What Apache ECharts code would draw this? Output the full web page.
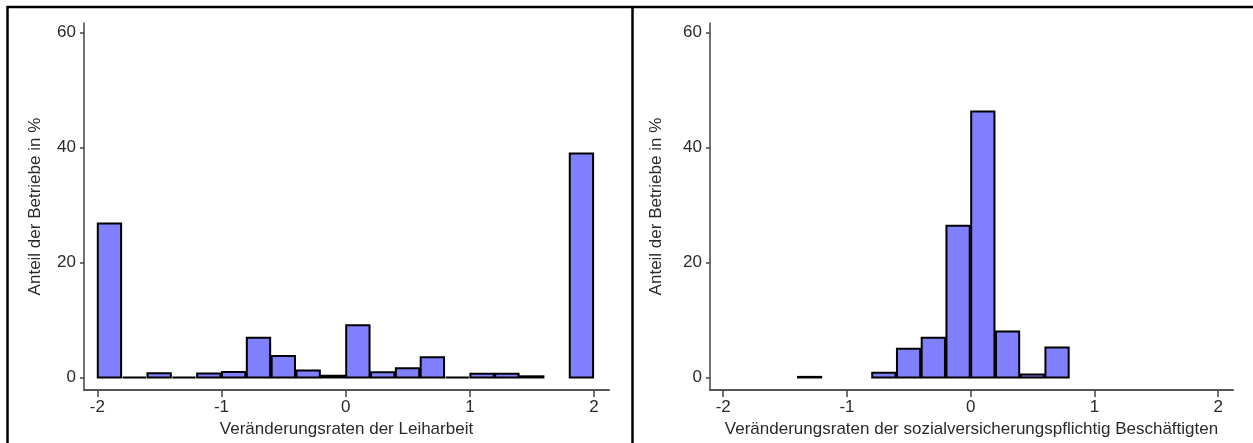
<!DOCTYPE html>
<html>
<head>
<meta charset="utf-8">
<script src="https://cdn.jsdelivr.net/npm/echarts@6/dist/echarts.min.js"></script>
<style>
  html, body { margin: 0; padding: 0; background: #fff; }
  #chart { width: 1253px; height: 443px; }
</style>
</head>
<body>
<div id="chart"></div>
<script>
// Histogramm: Klassen der Breite 0.2, Anteil der Betriebe in %
var binStarts = [-2.0, -1.8, -1.6, -1.4, -1.2, -1.0, -0.8, -0.6, -0.4, -0.2,
                  0.0,  0.2,  0.4,  0.6,  0.8,  1.0,  1.2,  1.4,  1.6,  1.8];
var binWidth = 0.2;
// Leiharbeit (null = kein Balken)
var leiharbeit = [26.8, 0, 0.75, 0, 0.7, 0.95, 6.9, 3.75, 1.2, 0.3,
                  9.1, 0.9, 1.6, 3.5, 0, 0.65, 0.65, 0.2, null, 39.0];
// sozialversicherungspflichtig Beschäftigte
var svBeschaeftigte = [null, null, null, 0.1, null, null, 0.8, 5.0, 6.9, 26.4,
                       46.3, 8.0, 0.5, 5.2, null, null, null, null, null, null];
var xTicks = [-2, -1, 0, 1, 2];
var yTicks = [0, 20, 40, 60];

var xNames = ['Veränderungsraten der Leiharbeit',
              'Veränderungsraten der sozialversicherungspflichtig Beschäftigten'];
var yName = 'Anteil der Betriebe in %';

function toBins(values) {
  var out = [];
  values.forEach(function (v, i) {
    if (v === null) return;
    out.push([binStarts[i], binStarts[i] + binWidth, v]);
  });
  return out;
}

function renderItem(params, api) {
  var p0 = api.coord([api.value(0), api.value(2)]);
  var p1 = api.coord([api.value(1), 0]);
  return {
    type: 'rect',
    shape: {
      x: p0[0] + 0.5,
      y: p0[1],
      width: p1[0] - p0[0] - 1.5,
      height: p1[1] - p0[1]
    },
    style: { fill: '#8080ff', stroke: '#000', lineWidth: 2 }
  };
}

var font = "'Liberation Sans', Arial, sans-serif";
var textColor = '#2a2a2a';

function xAxis(idx, name) {
  return {
    type: 'value',
    gridIndex: idx,
    min: -2.107,
    max: 2.12,
    name: name,
    nameLocation: 'middle',
    nameGap: 30,
    nameTextStyle: { color: textColor, fontSize: 17, fontFamily: font },
    axisLine: { onZero: false, lineStyle: { color: '#555', width: 2 } },
    axisTick: { customValues: xTicks, length: 7, lineStyle: { color: '#444', width: 1.5 } },
    axisLabel: { customValues: xTicks, margin: 9, color: textColor, fontSize: 17, fontFamily: font },
    splitLine: { show: false }
  };
}

function yAxis(idx, gap) {
  return {
    type: 'value',
    gridIndex: idx,
    min: -2.2,
    max: 61.7,
    name: yName,
    nameLocation: 'middle',
    nameGap: gap,
    nameTextStyle: { color: textColor, fontSize: 17, fontFamily: font },
    axisLine: { show: true, onZero: false, lineStyle: { color: '#444', width: 1.5 } },
    axisTick: { customValues: yTicks, length: 4, lineStyle: { color: '#444', width: 1.5 } },
    axisLabel: { customValues: yTicks, margin: 8, color: textColor, fontSize: 17, fontFamily: font },
    splitLine: { show: false }
  };
}

var chart = echarts.init(document.getElementById('chart'));
chart.setOption({
  animation: false,
  backgroundColor: '#fff',
  grid: [
    { left: 84, right: 644, top: 23, bottom: 51 },
    { left: 710, right: 20, top: 23, bottom: 51 }
  ],
  xAxis: [xAxis(0, xNames[0]), xAxis(1, xNames[1])],
  yAxis: [yAxis(0, 40), yAxis(1, 45)],
  series: [
    {
      type: 'custom',
      xAxisIndex: 0,
      yAxisIndex: 0,
      renderItem: renderItem,
      encode: { x: [0, 1], y: 2 },
      data: toBins(leiharbeit)
    },
    {
      type: 'custom',
      xAxisIndex: 1,
      yAxisIndex: 1,
      renderItem: renderItem,
      encode: { x: [0, 1], y: 2 },
      data: toBins(svBeschaeftigte)
    }
  ],
  // Rahmen um die beiden Felder
  graphic: [
    { type: 'line', shape: { x1: 7, y1: 7, x2: 1253, y2: 7 }, style: { stroke: '#000', lineWidth: 2.5 } },
    { type: 'line', shape: { x1: 7.5, y1: 6, x2: 7.5, y2: 443 }, style: { stroke: '#000', lineWidth: 2.5 } },
    { type: 'line', shape: { x1: 632.5, y1: 6, x2: 632.5, y2: 443 }, style: { stroke: '#000', lineWidth: 2.5 } }
  ]
});
</script>
</body>
</html>
